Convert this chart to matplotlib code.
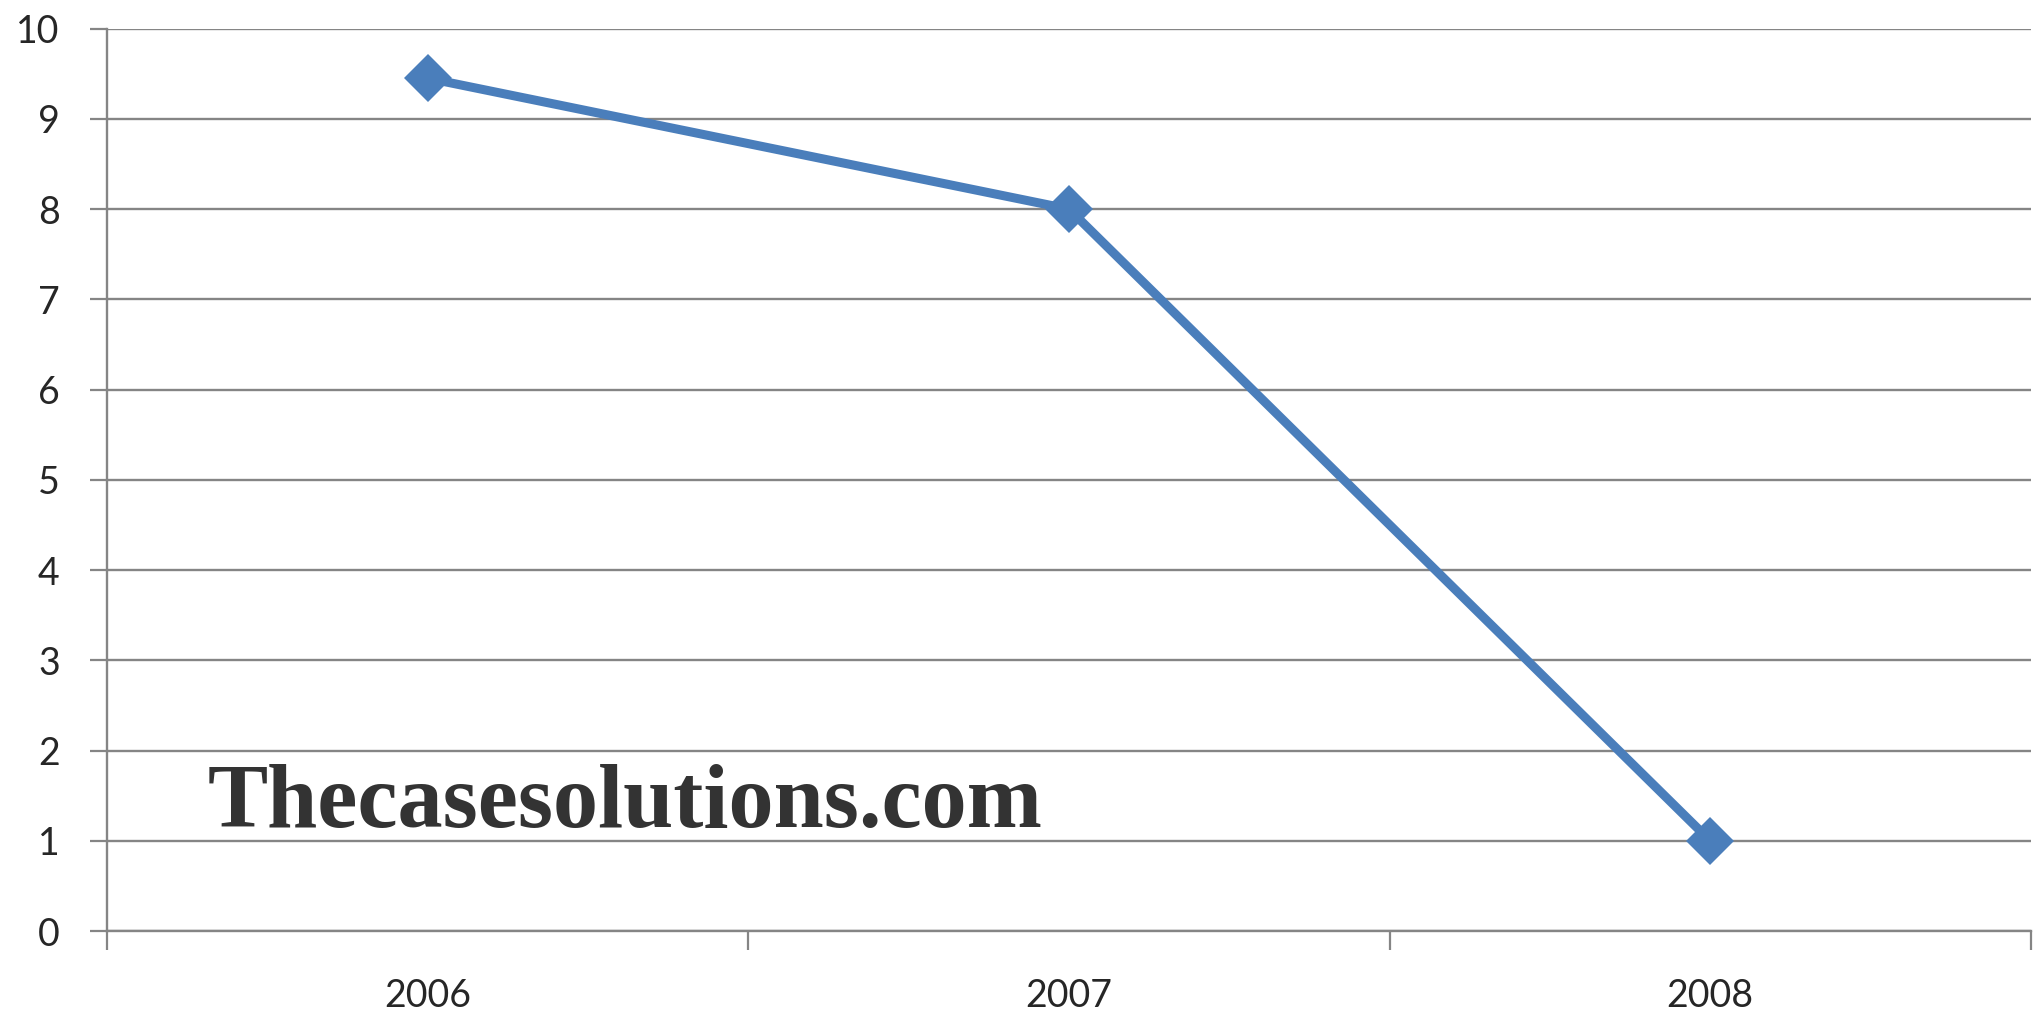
import numpy as np
import matplotlib
matplotlib.use("Agg")
import matplotlib.pyplot as plt
from matplotlib.ticker import FixedLocator

years = ["2006", "2007", "2008"]
values = [9.45, 8.0, 1.0]
y_ticks = list(range(0, 11))

LINE_BLUE = "#4a7ebb"
GRID_GRAY = "#858585"
TEXT_DARK = "#262626"

plt.rcParams['font.family'] = ['Lato', 'DejaVu Sans']

fig = plt.figure(figsize=(20.42, 10.13), dpi=100)
ax = fig.add_axes([0.0524, 0.0809, 0.9422, 0.8909])

x = np.arange(len(years))
ax.plot(x, values, color=LINE_BLUE, linewidth=6.5, marker='D', markersize=24,
        markeredgewidth=0, zorder=3)

ax.set_xlim(-0.5, len(years) - 0.5)
ax.set_ylim(0, 10)

# category labels in the middle, tick marks on the boundaries
ax.set_xticks(x)
ax.set_xticklabels(years)
ax.xaxis.set_minor_locator(FixedLocator(np.arange(-0.5, len(years), 1.0)))
ax.tick_params(axis='x', which='major', length=0, pad=34, labelsize=27, labelcolor=TEXT_DARK)
ax.tick_params(axis='x', which='minor', length=14, width=1.6, color=GRID_GRAY, direction='out')

ax.set_yticks(y_ticks)
ax.tick_params(axis='y', length=12, width=1.6, color=GRID_GRAY, pad=22, labelsize=27,
               labelcolor=TEXT_DARK)

ax.grid(True, axis='y', color=GRID_GRAY, linewidth=1.7, zorder=0)
ax.set_axisbelow(True)
for side in ['top', 'right']:
    ax.spines[side].set_visible(False)
for side in ['left', 'bottom']:
    ax.spines[side].set_color(GRID_GRAY)
    ax.spines[side].set_linewidth(1.7)

fig.text(208 / 2042, 1 - 827 / 1013, "Thecasesolutions.com", fontsize=65,
         fontweight='bold', family=['Liberation Serif', 'DejaVu Serif'],
         color="#333333", ha='left', va='baseline')

fig.savefig("out.png", dpi=100, facecolor='white')
